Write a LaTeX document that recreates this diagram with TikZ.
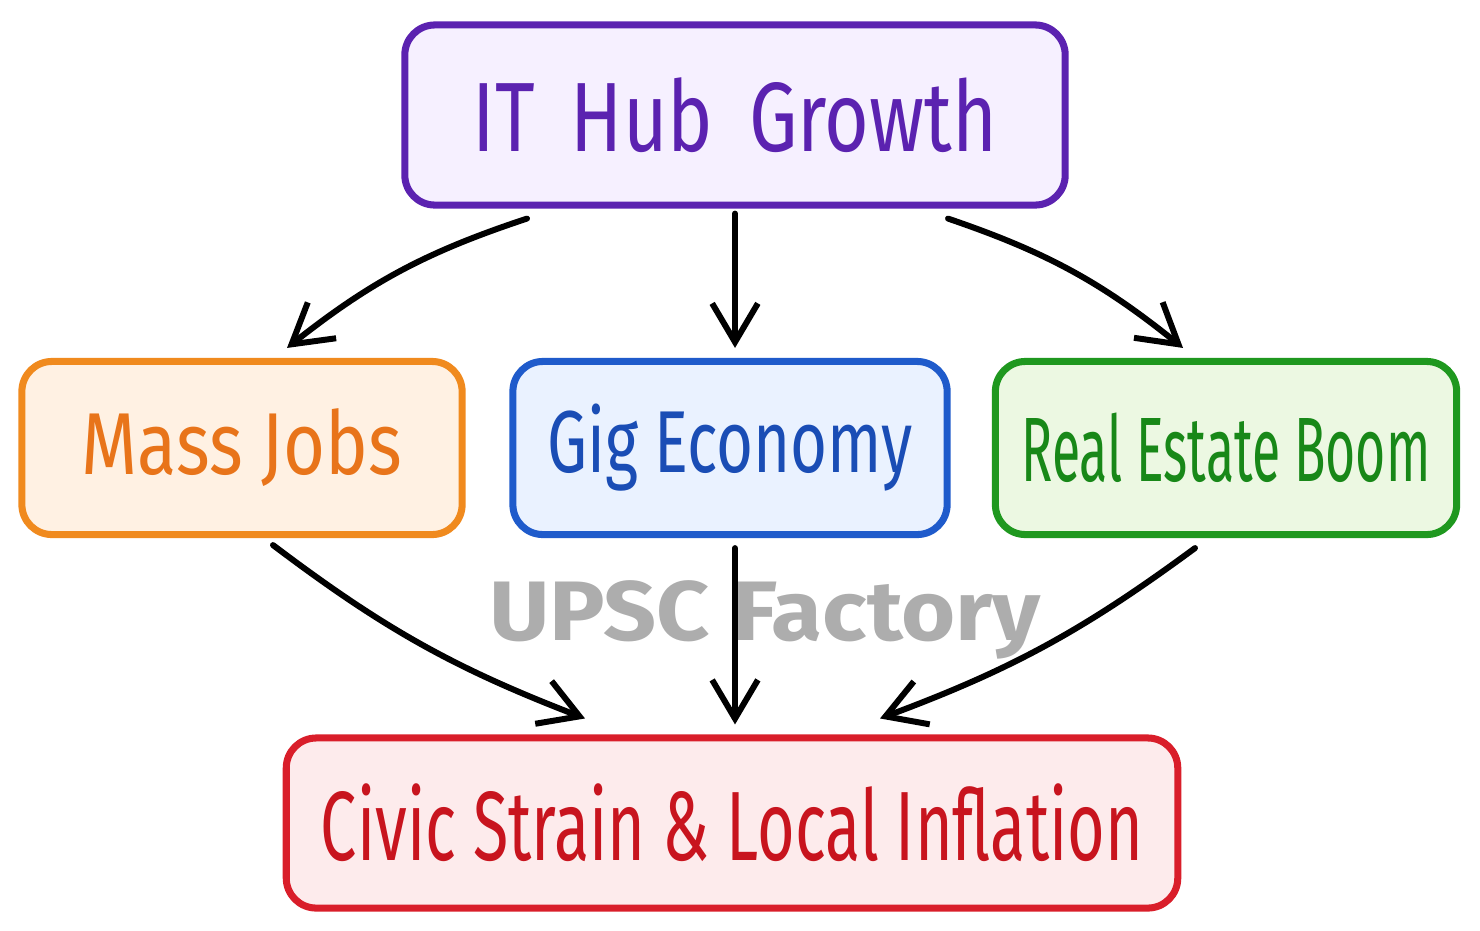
\documentclass[tikz,border=0pt]{standalone}
\usepackage{fontspec}
\setmainfont{Fira Sans}
\newfontfamily\handfont[FakeStretch=0.82]{Fira Sans}
\newfontfamily\markfont{Fira Sans}
\usepackage{tikz}
\usetikzlibrary{positioning,arrows.meta,calc}

\definecolor{hubline}{HTML}{5B22B0}
\definecolor{hubfill}{HTML}{F6F0FF}
\definecolor{jobline}{HTML}{F08A1E}
\definecolor{jobfill}{HTML}{FFF1E3}
\definecolor{jobtext}{HTML}{E8741A}
\definecolor{gigline}{HTML}{1F5BCB}
\definecolor{gigfill}{HTML}{EAF2FF}
\definecolor{gigtext}{HTML}{1A4DB5}
\definecolor{estline}{HTML}{1F981F}
\definecolor{estfill}{HTML}{ECF8E2}
\definecolor{esttext}{HTML}{188818}
\definecolor{civline}{HTML}{D91E2A}
\definecolor{civfill}{HTML}{FDEBEC}
\definecolor{civtext}{HTML}{C8141E}

\tikzset{
	box/.style={draw, line width=2pt, rounded corners=0.3cm, inner sep=0pt, font=\handfont},
	flow/.style={line width=1.7pt, line cap=round, -{Straight Barb[length=11pt,width=13pt,line width=1.7pt]}},
}

\begin{document}
\begin{tikzpicture}[x=0.01cm,y=-0.01cm]
\useasboundingbox (0,0) rectangle (1480,930);

% top box
\node[box, draw=hubline, fill=hubfill, text=hubline, minimum width=6.6cm, minimum height=1.8cm] (hub) at (735,115) {\fontsize{28}{30}\selectfont\scalebox{0.95}[1]{IT\, Hub\, Growth}};

% middle row
\node[box, draw=jobline, fill=jobfill, text=jobtext, minimum width=4.4cm, minimum height=1.73cm] (jobs) at (242,448) {\fontsize{25}{27}\selectfont Mass Jobs};
\node[box, draw=gigline, fill=gigfill, text=gigtext, minimum width=4.34cm, minimum height=1.73cm] (gig) at (730,448) {\fontsize{25}{27}\selectfont\scalebox{0.88}[1]{Gig Economy}};
\node[box, draw=estline, fill=estfill, text=esttext, minimum width=4.61cm, minimum height=1.73cm] (estate) at (1226,448) {\fontsize{26}{28}\selectfont\scalebox{0.69}[1]{Real Estate Boom}};

% bottom box
\node[box, draw=civline, fill=civfill, text=civtext, minimum width=8.91cm, minimum height=1.7cm] (civic) at (732,823) {\fontsize{28}{30}\selectfont\scalebox{0.8}[1]{Civic Strain \& Local Inflation}};

% watermark
\node[font=\markfont\bfseries\fontsize{24}{26}\selectfont, text=black!32] (mark) at (765,620) {\scalebox{1.1}[1]{UPSC Factory}};

% arrows from the top
\draw[flow] ($(hub.south)+(-208,10)$) to[bend right=10] ($(jobs.north)+(45,-10)$);
\draw[flow] ($(hub.south)+(0,5)$) -- ($(gig.north)+(5,-10)$);
\draw[flow] ($(hub.south)+(213,10)$) to[bend left=10] ($(estate.north)+(-43,-10)$);

% arrows to the bottom
\draw[flow] ($(jobs.south)+(31,7)$) to[bend right=8] ($(civic.north)+(-147,-16)$);
\draw[flow] ($(gig.south)+(5,10)$) -- ($(civic.north)+(3,-10)$);
\draw[flow] ($(estate.south)+(-31,10)$) to[bend left=8] ($(civic.north)+(148,-16)$);

\end{tikzpicture}
\end{document}
